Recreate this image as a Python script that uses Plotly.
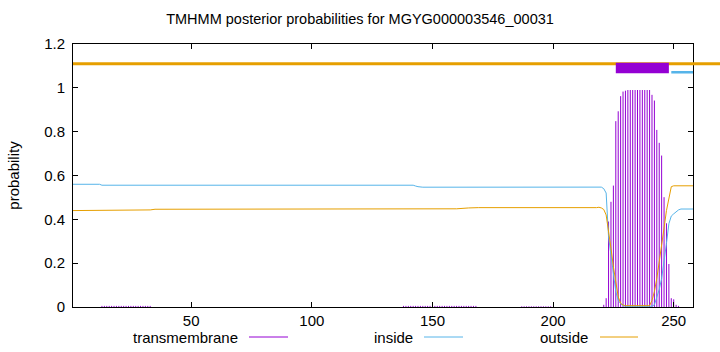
import plotly.graph_objects as go

# ---------------- data ----------------
seq_len = 258
title_text = "TMHMM posterior probabilities for MGYG000003546_00031"

# transmembrane posterior (impulses), residue -> value (zero elsewhere)
tm_pos = (list(range(13, 34)) + list(range(138, 169)) + list(range(187, 200)) +
          [221, 222, 223, 224, 225, 226, 227, 228, 229, 230, 231, 232, 233, 234, 235,
           236, 237, 238, 239, 240, 241, 242, 243, 244, 245, 246, 247, 248, 249, 250,
           251, 252])
tm_val = ([0.005] * 21 + [0.005] * 31 + [0.003] * 13 +
          [0.01, 0.04, 0.39, 0.48, 0.554, 0.848, 0.893, 0.962, 0.983, 0.987, 0.99, 0.99,
           0.99, 0.99, 0.99, 0.99, 0.99, 0.99, 0.99, 0.99, 0.968, 0.942, 0.808, 0.749,
           0.691, 0.501, 0.382, 0.196, 0.04, 0.035, 0.01, 0.005])

# inside posterior (key points along the curve)
inside_pos = [1, 12, 13, 142, 143, 144, 146, 220, 221, 222, 223, 224, 225, 226, 227,
              228, 229, 230, 240, 241, 242, 243, 244, 245, 246, 247, 248, 249, 250, 251,
              252, 253, 258]
inside_val = [0.560, 0.560, 0.5557, 0.5557, 0.552, 0.549, 0.5466, 0.547, 0.54, 0.52,
              0.32, 0.24, 0.14, 0.07, 0.03, 0.015, 0.006, 0.003, 0.003, 0.004, 0.01,
              0.04, 0.08, 0.13, 0.2, 0.29, 0.38, 0.415, 0.425, 0.435, 0.443, 0.447, 0.447]

# outside posterior (key points along the curve)
outside_pos = [1, 32, 33, 35, 157, 160, 165, 169, 218, 219, 220, 221, 222, 223, 224,
               225, 226, 227, 228, 229, 230, 239, 240, 241, 242, 243, 244, 245, 246, 247,
               248, 249, 250, 258]
outside_val = [0.44, 0.44, 0.443, 0.446, 0.446, 0.448, 0.452, 0.4534, 0.4534, 0.455,
               0.452, 0.445, 0.42, 0.35, 0.268, 0.184, 0.108, 0.047, 0.017, 0.009, 0.006,
               0.005, 0.006, 0.03, 0.07, 0.13, 0.2, 0.28, 0.36, 0.44, 0.50, 0.549, 0.553,
               0.553]

# predicted topology (top annotation)
topo_outside_y = 1.11
topo_tm_seg = (226, 248)
topo_tm_y = (1.067, 1.115)
topo_inside_seg = (249, 258)
topo_inside_y = 1.071

x_ticks = [50, 100, 150, 200, 250]
y_ticks = [0, 0.2, 0.4, 0.6, 0.8, 1.0, 1.2]
y_ticktext = ["0", "0.2", "0.4", "0.6", "0.8", "1", "1.2"]

legend_names = ["transmembrane", "inside", "outside"]

C_TM = "#9400D3"
C_IN = "#56B4E9"
C_OUT = "#E69F00"
FONT = "Liberation Sans, Arial, sans-serif"

# ---------------- figure ----------------
imp_x, imp_y = [], []
for p, v in zip(tm_pos, tm_val):
    imp_x += [p, p, None]
    imp_y += [0, v, None]

fig = go.Figure()
fig.add_trace(go.Scatter(x=imp_x, y=imp_y, mode="lines",
                         line=dict(color=C_TM, width=1), showlegend=False,
                         hoverinfo="skip"))
fig.add_trace(go.Scatter(x=inside_pos, y=inside_val, mode="lines",
                         line=dict(color=C_IN, width=1), showlegend=False))
fig.add_trace(go.Scatter(x=outside_pos, y=outside_val, mode="lines",
                         line=dict(color=C_OUT, width=1), showlegend=False))

L, R, T, B = 73, 27, 44, 45
W, H = 720, 352
pw, ph = W - L - R, H - T - B

def px_x(px):
    return (px - L) / pw

def px_y(py):
    return (H - B - py) / ph

shapes = [
    dict(type="line", xref="paper", yref="y", x0=0, x1=px_x(W + 2),
         y0=topo_outside_y, y1=topo_outside_y, line=dict(color=C_OUT, width=3)),
    dict(type="rect", xref="x", yref="y", x0=topo_tm_seg[0], x1=topo_tm_seg[1],
         y0=topo_tm_y[0], y1=topo_tm_y[1], fillcolor=C_TM, line=dict(width=0)),
    dict(type="line", xref="x", yref="y", x0=topo_inside_seg[0], x1=topo_inside_seg[1],
         y0=topo_inside_y, y1=topo_inside_y, line=dict(color=C_IN, width=2.5)),
]

annotations = []
leg_text_right = [240, 415, 590]
leg_line = [(249, 288), (424, 463), (600, 638)]
leg_colors = [C_TM, C_IN, C_OUT]
leg_y = px_y(337)
for name, tr, (a, b), c in zip(legend_names, leg_text_right, leg_line, leg_colors):
    annotations.append(dict(text=name, xref="paper", yref="paper", x=px_x(tr), y=leg_y,
                            xanchor="right", yanchor="middle", showarrow=False,
                            font=dict(family=FONT, size=15, color="black")))
    shapes.append(dict(type="line", xref="paper", yref="paper", x0=px_x(a), x1=px_x(b),
                       y0=leg_y, y1=leg_y, line=dict(color=c, width=1)))

fig.update_layout(
    width=W, height=H,
    margin=dict(l=L, r=R, t=T, b=B),
    paper_bgcolor="white", plot_bgcolor="white",
    font=dict(family=FONT, size=15, color="black"),
    title=dict(text=title_text, x=px_x((L + W - R) / 2), xanchor="center",
               y=1 - 19 / H, yanchor="middle", font=dict(family=FONT, size=14.5)),
    showlegend=False,
    shapes=shapes,
    annotations=annotations,
    xaxis=dict(range=[1, seq_len], tickvals=x_ticks, ticks="inside", ticklen=5,
               tickcolor="black", showline=True, linecolor="black", linewidth=1,
               mirror="ticks", showgrid=False, zeroline=False,
               tickfont=dict(family=FONT, size=15)),
    yaxis=dict(range=[0, 1.2], tickvals=y_ticks, ticktext=y_ticktext, ticks="inside",
               ticklen=5, tickcolor="black", showline=True, linecolor="black",
               linewidth=1, mirror="ticks", showgrid=False, zeroline=False,
               ticklabelstandoff=4,
               tickfont=dict(family=FONT, size=15),
               title=dict(text="probability", standoff=20,
                          font=dict(family=FONT, size=15))),
)

fig.write_html("out.html")
